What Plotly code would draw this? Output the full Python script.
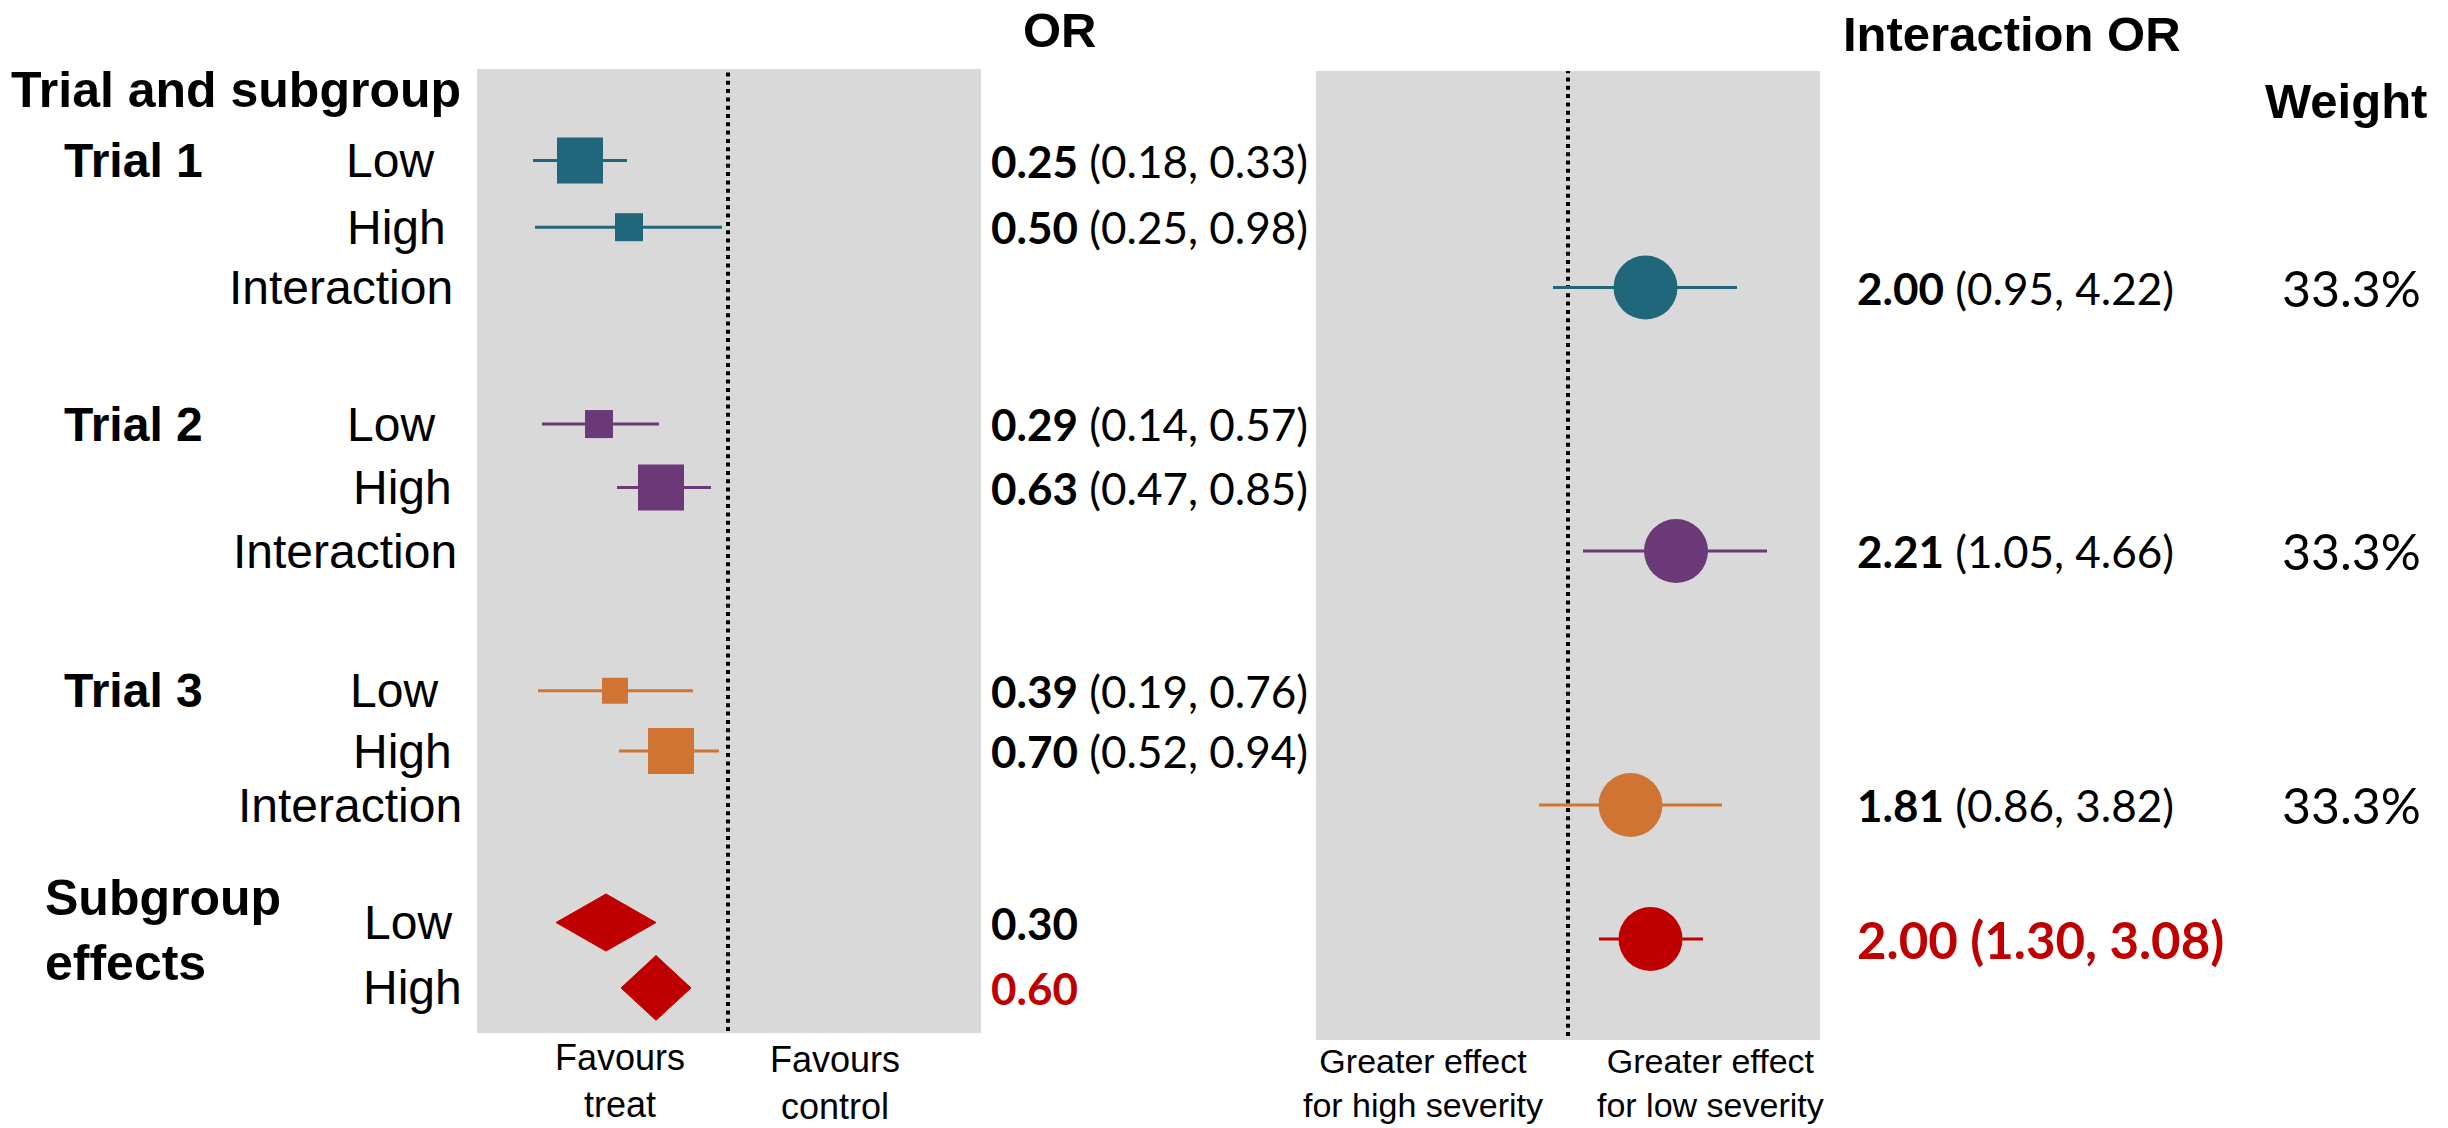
import plotly.graph_objects as go

W, H = 2448, 1128

# ---------------- data ----------------
trials = ["Trial 1", "Trial 2", "Trial 3"]
severity = ["Low", "High"]

# printed subgroup odds ratios (Low, High for each trial)
sub_or = [0.25, 0.50, 0.29, 0.63, 0.39, 0.70]
sub_lo = [0.18, 0.25, 0.14, 0.47, 0.19, 0.52]
sub_hi = [0.33, 0.98, 0.57, 0.85, 0.76, 0.94]
# printed interaction odds ratios
int_or = [2.00, 2.21, 1.81]
int_lo = [0.95, 1.05, 0.86]
int_hi = [4.22, 4.66, 3.82]
weights = [33.3, 33.3, 33.3]
pooled_sub_or = [0.30, 0.60]
pooled_int = [2.00, 1.30, 3.08]

# marks as drawn in the picture (schematic OR scale, 1 = no effect)
drawn_sub_est = [0.26, 0.505, 0.355, 0.665, 0.435, 0.715]
drawn_sub_lo = [0.025, 0.035, 0.07, 0.445, 0.05, 0.455]
drawn_sub_hi = [0.495, 0.97, 0.655, 0.915, 0.825, 0.955]
drawn_pool_est = [0.39, 0.64]
drawn_pool_lo = [0.14, 0.465]
drawn_pool_hi = [0.64, 0.815]
drawn_int_est = [1.775, 2.08, 1.625]
drawn_int_lo = [0.85, 1.15, 0.71]
drawn_int_hi = [2.69, 2.99, 2.54]
drawn_pool_int = [1.825, 1.31, 2.35]

left_captions = ["Favours<br>treat", "Favours<br>control"]
right_captions = ["Greater effect<br>for high severity", "Greater effect<br>for low severity"]

# ---------------- layout / style ----------------
row_low = [0.0, 4.15, 8.35]
row_high = [1.05, 5.15, 9.3]
row_int = [2.0, 6.15, 10.15]
row_pool = [12.0, 13.03]
row_pool_int = 12.26

# right edges (px) of the severity labels, per trial
low_right = [436, 437, 440]
high_right = [448, 454, 454]
int_right = [455, 459, 464]
pool_right = [454, 464]

trial_colors = ["#21677c", "#6b3977", "#d07433"]
red = "#c00000"
gray = "#d9d9d9"
sq_size = [46, 28, 28, 46, 26, 46]
circle_size = 64
diamond_half = [0.45, 0.51]

LAB = "Liberation Sans"
NUM = "Lato"

def px(x):
    return x / W

def py(y):
    return 1 - y / H

fig = go.Figure()

# subgroup CI lines + squares
for t in range(3):
    rows = [row_low[t], row_high[t]]
    for k in range(2):
        i = 2 * t + k
        fig.add_trace(go.Scatter(
            x=[drawn_sub_lo[i], drawn_sub_hi[i]], y=[rows[k], rows[k]],
            mode="lines", line=dict(color=trial_colors[t], width=3),
            xaxis="x", yaxis="y", showlegend=False, hoverinfo="skip"))
        fig.add_trace(go.Scatter(
            x=[drawn_sub_est[i]], y=[rows[k]], mode="markers",
            marker=dict(symbol="square", size=sq_size[i], color=trial_colors[t],
                        line=dict(width=0)),
            xaxis="x", yaxis="y", showlegend=False,
            hovertext=f"{trials[t]} {severity[k]}: {sub_or[i]:.2f}", hoverinfo="text"))

# pooled subgroup diamonds
for k in range(2):
    r = row_pool[k]
    h = diamond_half[k]
    fig.add_trace(go.Scatter(
        x=[drawn_pool_lo[k], drawn_pool_est[k], drawn_pool_hi[k], drawn_pool_est[k], drawn_pool_lo[k]],
        y=[r, r - h, r, r + h, r], mode="lines", fill="toself",
        fillcolor=red, line=dict(color=red, width=1),
        xaxis="x", yaxis="y", showlegend=False, hoverinfo="skip"))

# interaction CI lines + circles
for t in range(3):
    fig.add_trace(go.Scatter(
        x=[drawn_int_lo[t], drawn_int_hi[t]], y=[row_int[t], row_int[t]],
        mode="lines", line=dict(color=trial_colors[t], width=3),
        xaxis="x2", yaxis="y", showlegend=False, hoverinfo="skip"))
    fig.add_trace(go.Scatter(
        x=[drawn_int_est[t]], y=[row_int[t]], mode="markers",
        marker=dict(symbol="circle", size=circle_size, color=trial_colors[t], line=dict(width=0)),
        xaxis="x2", yaxis="y", showlegend=False,
        hovertext=f"{trials[t]} interaction: {int_or[t]:.2f}", hoverinfo="text"))
fig.add_trace(go.Scatter(
    x=[drawn_pool_int[1], drawn_pool_int[2]], y=[row_pool_int, row_pool_int],
    mode="lines", line=dict(color=red, width=3),
    xaxis="x2", yaxis="y", showlegend=False, hoverinfo="skip"))
fig.add_trace(go.Scatter(
    x=[drawn_pool_int[0]], y=[row_pool_int], mode="markers",
    marker=dict(symbol="circle", size=circle_size, color=red, line=dict(width=0)),
    xaxis="x2", yaxis="y", showlegend=False, hoverinfo="skip"))

ann = []

def text(x, y, s, size, family=LAB, color="black", xanchor="center", yref="y",
         align="center", yshift=0):
    ann.append(dict(x=x, y=y, xref="paper", yref=yref, text=s, showarrow=False,
                    xanchor=xanchor, yanchor="middle", align=align, yshift=yshift,
                    font=dict(family=family, size=size, color=color)))

# headers
text(px(236), py(90), "<b>Trial and subgroup</b>", 50, yref="paper")
text(px(1060), py(30), "<b>OR</b>", 49, yref="paper")
text(px(2012), py(34), "<b>Interaction OR</b>", 49, yref="paper")
text(px(2346), py(101), "<b>Weight</b>", 49, yref="paper")

# row labels
for t in range(3):
    text(px(133), row_low[t], f"<b>{trials[t]}</b>", 48)
    text(px(low_right[t]), row_low[t], severity[0], 48, xanchor="right")
    text(px(high_right[t]), row_high[t], severity[1], 48, xanchor="right")
    text(px(int_right[t]), row_int[t], "Interaction", 48, xanchor="right")
text(px(43), row_pool[0], "<b>Subgroup<br>effects</b>", 50, xanchor="left", align="left", yshift=-8)
text(px(pool_right[0]), row_pool[0], severity[0], 48, xanchor="right")
text(px(pool_right[1]), row_pool[1], severity[1], 48, xanchor="right")

# OR column
for t in range(3):
    for k, r in enumerate([row_low[t], row_high[t]]):
        i = 2 * t + k
        text(px(989), r, f"<b>{sub_or[i]:.2f}</b> ({sub_lo[i]:.2f}, {sub_hi[i]:.2f})", 44,
             family=NUM, xanchor="left")
text(px(989), row_pool[0], f"<b>{pooled_sub_or[0]:.2f}</b>", 44, family=NUM, xanchor="left")
text(px(989), row_pool[1], f"<b>{pooled_sub_or[1]:.2f}</b>", 44, family=NUM, xanchor="left", color=red)

# interaction column + weights
for t in range(3):
    text(px(1855), row_int[t], f"<b>{int_or[t]:.2f}</b> ({int_lo[t]:.2f}, {int_hi[t]:.2f})", 44,
         family=NUM, xanchor="left")
    text(px(2423), row_int[t], f"{weights[t]:.1f}%", 50, family=NUM, xanchor="right")
text(px(1855), row_pool_int,
     f"<b>{pooled_int[0]:.2f} ({pooled_int[1]:.2f}, {pooled_int[2]:.2f})</b>", 51,
     family=NUM, xanchor="left", color=red)

# bottom axis captions
text(px(620), py(1081), left_captions[0], 36, yref="paper")
text(px(835), py(1083), left_captions[1], 36, yref="paper")
text(px(1423), py(1083), right_captions[0], 34, yref="paper")
text(px(1710), py(1083), right_captions[1], 34, yref="paper")

shapes = [
    dict(type="rect", xref="x domain", yref="paper", x0=0, x1=1, y0=py(1033), y1=py(69),
         fillcolor=gray, line=dict(width=0), layer="below"),
    dict(type="rect", xref="x2 domain", yref="paper", x0=0, x1=1, y0=py(1040), y1=py(71),
         fillcolor=gray, line=dict(width=0), layer="below"),
    dict(type="line", xref="x", yref="paper", x0=1, x1=1, y0=py(1031), y1=py(69),
         line=dict(color="black", width=4, dash="4px,4.3px"), layer="below"),
    dict(type="line", xref="x2", yref="paper", x0=1, x1=1, y0=py(1036), y1=py(71),
         line=dict(color="black", width=4, dash="4px,4.3px"), layer="below"),
]

fig.update_layout(
    width=W, height=H,
    margin=dict(l=0, r=0, t=0, b=0),
    paper_bgcolor="white", plot_bgcolor="rgba(0,0,0,0)",
    showlegend=False,
    xaxis=dict(domain=[px(477), px(981)], range=[-0.255, 2.265], visible=False, fixedrange=True),
    xaxis2=dict(domain=[px(1316), px(1820)], range=[-1.52, 3.52], visible=False,
                anchor="y", fixedrange=True),
    yaxis=dict(domain=[0, 1], range=[15.236, -2.528], visible=False, fixedrange=True),
    annotations=ann,
    shapes=shapes,
)

fig.write_html("out.html", config={"displayModeBar": False},
               post_script="document.body.style.margin='0px';document.body.style.overflow='hidden';")
